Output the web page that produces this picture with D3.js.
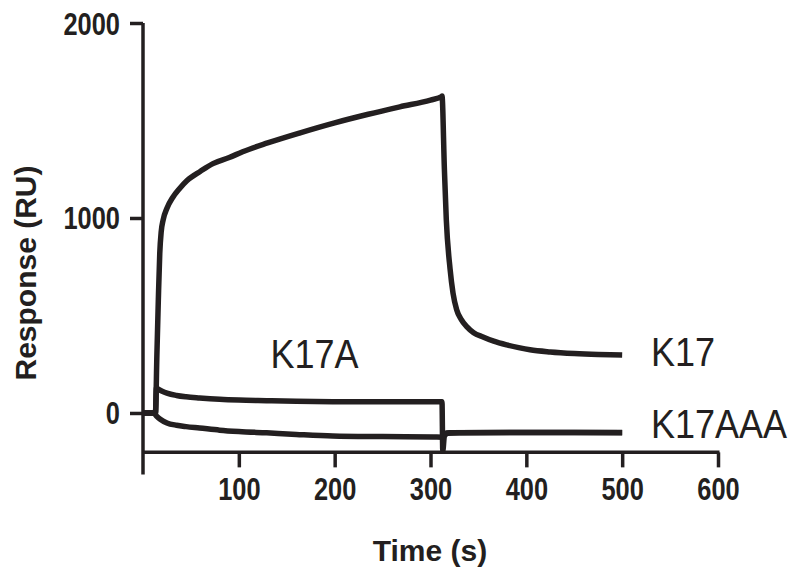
<!DOCTYPE html>
<html><head><meta charset="utf-8">
<script src="https://cdn.jsdelivr.net/npm/d3@7"></script>
<style>body{margin:0;background:#fff}svg{display:block}</style>
</head><body>
<svg id="c" width="800" height="584"></svg>
<script>
const xTicks = [100, 200, 300, 400, 500, 600];
const yTicks = [0, 1000, 2000];
const seriesNames = ["K17", "K17A", "K17AAA"];
const k17T = [0, 12, 13, 14.5, 16, 17.5, 19, 21, 25, 31, 38, 46, 60, 73, 90, 104, 130, 164, 200, 235, 268, 300, 311.7, 312, 314.5, 316.5, 320.4, 323.5, 327.3, 332, 337.8, 345, 354.8, 366, 379.5, 392, 403.8, 425, 450, 475, 500];
const k17V = [0, 0, 0, 300, 580, 820, 930, 990, 1050, 1105, 1150, 1192, 1240, 1279, 1310, 1340, 1385, 1437, 1488, 1532, 1570, 1605, 1623, 1625, 1250, 990, 740, 615, 530, 480, 443, 412, 390, 368, 349, 335, 324, 313, 305, 300, 297];
const k17aT = [0, 12, 13, 14, 15, 20, 25, 35, 45, 59, 80, 100, 129, 160, 198, 250, 312, 312.8, 314.5, 318, 330, 400, 450, 500];
const k17aV = [0, 0, 0, 128, 125, 112, 102, 90, 83, 77, 70, 66, 63, 60, 58, 57, 57, -195, -118, -104, -101, -100, -100, -100];
const k17aaaT = [0, 11, 14, 18, 25, 35, 45, 59, 80, 100, 129, 160, 198, 250, 303, 312, 314, 320, 400, 450, 500];
const k17aaaV = [0, 0, -15, -32, -51, -63, -70, -77, -88, -95, -102, -110, -118, -121, -123, -124, -106, -102, -100, -100, -101];
const labels = [
  {text: "K17A", t: 133, v: 230},
  {text: "K17", t: 530, v: 240},
  {text: "K17AAA", t: 530, v: -130}
];

const ink = "#231f20";
const svg = d3.select("#c");
const x = d3.scaleLinear().domain([0, 600]).range([143, 718]);
const y = d3.scaleLinear().domain([-315, 2000]).range([474.4, 23]);

// axis lines
svg.append("line").attr("x1", x(0)).attr("x2", x(0)).attr("y1", y(2000)).attr("y2", y(-315))
  .attr("stroke", ink).attr("stroke-width", 3.5);
svg.append("line").attr("x1", x(0)).attr("x2", x(600) + 1.5).attr("y1", y(-202)).attr("y2", y(-202))
  .attr("stroke", ink).attr("stroke-width", 3.5);

const yAxis = svg.append("g").attr("transform", `translate(${x(0)},0)`)
  .call(d3.axisLeft(y).tickValues(yTicks).tickSize(13).tickPadding(10).tickFormat(d3.format("d")));
const xAxis = svg.append("g").attr("transform", `translate(0,${y(-202)})`)
  .call(d3.axisBottom(x).tickValues(xTicks).tickSize(15).tickPadding(10).tickFormat(d3.format("d")));
[yAxis, xAxis].forEach(g => {
  g.select(".domain").remove();
  g.selectAll(".tick line").attr("stroke", ink).attr("stroke-width", 3.5);
  g.selectAll(".tick text").attr("fill", ink).attr("font-family", "Liberation Sans, Arial, sans-serif")
    .attr("font-weight", "bold").attr("font-size", 31);
});
yAxis.selectAll(".tick text").attr("dy", null).attr("x", null).attr("text-anchor", "end")
  .attr("transform", "translate(-23,11) scale(0.82,1)");
xAxis.selectAll(".tick text").attr("dy", null).attr("y", null).attr("text-anchor", "middle")
  .attr("transform", "translate(0,47.5) scale(0.82,1)");

// axis titles
svg.append("text").attr("x", 430).attr("y", 561).attr("text-anchor", "middle")
  .attr("font-family", "Liberation Sans, Arial, sans-serif").attr("font-weight", "bold")
  .attr("font-size", 30).attr("fill", ink).text("Time (s)");
svg.append("text").attr("transform", "translate(36,273) rotate(-90)").attr("text-anchor", "middle")
  .attr("font-family", "Liberation Sans, Arial, sans-serif").attr("font-weight", "bold")
  .attr("font-size", 30).attr("fill", ink).text("Response (RU)");

// curves
const line = d3.line().x(d => x(d[0])).y(d => y(d[1])).curve(d3.curveMonotoneX);
const series = [
  [k17T, k17V],
  [k17aT, k17aV],
  [k17aaaT, k17aaaV]
];
series.forEach(([ts, vs], i) => {
  svg.append("path").datum(ts.map((t, j) => [t, vs[j]]))
    .attr("class", "series-" + seriesNames[i])
    .attr("d", line).attr("fill", "none").attr("stroke", ink)
    .attr("stroke-width", 5.5).attr("stroke-linejoin", "round").attr("stroke-linecap", "butt");
});

// labels
labels.forEach(l => {
  svg.append("text").attr("transform", `translate(${x(l.t)},${y(l.v)}) scale(0.9,1)`)
    .attr("font-family", "Liberation Sans, Arial, sans-serif").attr("font-size", 40)
    .attr("fill", ink).text(l.text);
});
</script>
</body></html>
